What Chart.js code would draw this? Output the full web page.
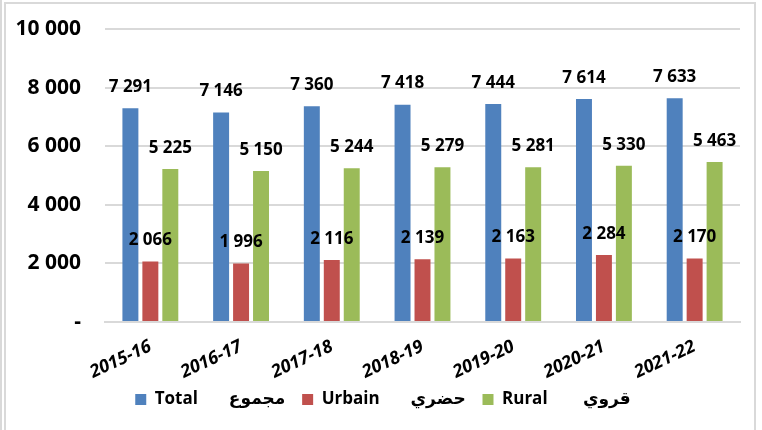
<!DOCTYPE html>
<html>
<head>
<meta charset="utf-8">
<script src="https://cdn.jsdelivr.net/npm/chart.js@4.4.1/dist/chart.umd.min.js"></script>
<style>
  html, body { margin: 0; padding: 0; background: #fff; }
  #wrap { position: relative; width: 762px; height: 430px; overflow: hidden; }
  #edge { position: absolute; left: 0; top: 0; width: 2px; height: 430px; background: #d9d9d9; }
  #frame { position: absolute; left: 4px; top: 2px; width: 748px; height: 440px;
           border: 2px solid #d9d9d9; border-bottom: none; }
  #chart { position: absolute; left: 0; top: 0; }
</style>
</head>
<body>
<div id="wrap">
  <div id="edge"></div>
  <div id="frame"></div>
  <canvas id="chart" width="762" height="430"></canvas>
</div>
<script>
// years and values
const years = ['2015-16', '2016-17', '2017-18', '2018-19', '2019-20', '2020-21', '2021-22'];
const totalValues = [7291, 7146, 7360, 7418, 7444, 7614, 7633];
const urbainValues = [2066, 1996, 2116, 2139, 2163, 2284, 2170];
const ruralValues = [5225, 5150, 5244, 5279, 5281, 5330, 5463];
const yTicks = [0, 2000, 4000, 6000, 8000, 10000];

const fontFamily = "'Open Sans', 'DejaVu Sans', sans-serif";
const gridColor = '#d9d9d9';

function fmt(v) {
    return v.toString().replace(/\B(?=(\d{3})+(?!\d))/g, ' ');
}

// value labels above each bar
const barLabels = {
    id: 'barLabels',
    afterDatasetsDraw(chart) {
        const ctx = chart.ctx;
        ctx.save();
        ctx.font = 'bold 17px ' + fontFamily;
        ctx.fillStyle = '#000';
        ctx.textAlign = 'center';
        ctx.textBaseline = 'middle';
        chart.data.datasets.forEach(function (ds, i) {
            chart.getDatasetMeta(i).data.forEach(function (bar, j) {
                ctx.fillText(fmt(ds.data[j]), bar.x, bar.y - 21);
            });
        });
        ctx.restore();
    }
};

// make sure the top gridline shows (it sits on the chart area edge)
const topGrid = {
    id: 'topGrid',
    beforeDatasetsDraw(chart) {
        const y = chart.scales.y;
        const area = chart.chartArea;
        const py = Math.round(y.getPixelForValue(yTicks[yTicks.length - 1]));
        const ctx = chart.ctx;
        ctx.save();
        ctx.strokeStyle = gridColor;
        ctx.lineWidth = 2;
        ctx.beginPath();
        ctx.moveTo(area.left, py);
        ctx.lineTo(area.right, py);
        ctx.stroke();
        ctx.restore();
    }
};

// nudge the legend a bit right so it sits under the plot like the original
const legendShift = {
    id: 'legendShift',
    afterLayout(chart) {
        chart.legend.left += 8;
        chart.legend.right += 8;
    }
};

const ctx = document.getElementById('chart').getContext('2d');
new Chart(ctx, {
    type: 'bar',
    data: {
        labels: years,
        datasets: [{
            label: 'Total       مجموع  ',
            data: totalValues,
            backgroundColor: '#4F81BD'
        }, {
            label: 'Urbain       حضري  ',
            data: urbainValues,
            backgroundColor: '#C0504D'
        }, {
            label: 'Rural        قروي',
            data: ruralValues,
            backgroundColor: '#9BBB59'
        }]
    },
    options: {
        responsive: false,
        animation: false,
        categoryPercentage: 0.66,
        barPercentage: 0.8,
        layout: {
            padding: { left: 10, right: 22, top: 29, bottom: 12 }
        },
        plugins: {
            legend: {
                position: 'bottom',
                labels: {
                    boxWidth: 11,
                    boxHeight: 11,
                    padding: 8,
                    color: '#000',
                    font: { family: fontFamily, size: 17, weight: 'bold' }
                }
            },
            tooltip: { enabled: false }
        },
        scales: {
            x: {
                grid: { display: false, drawTicks: false },
                border: { color: gridColor, width: 2 },
                ticks: {
                    minRotation: 25,
                    maxRotation: 25,
                    padding: 14,
                    color: '#000',
                    font: { family: fontFamily, size: 18, weight: 'bold', style: 'italic' }
                },
                afterFit(axis) {
                    axis.height = 61;
                    axis.paddingLeft = 0;
                    axis.paddingRight = 0;
                }
            },
            y: {
                min: 0,
                max: 10000,
                afterBuildTicks(axis) {
                    axis.ticks = yTicks.map(function (v) { return { value: v }; });
                },
                grid: { color: gridColor, lineWidth: 2, drawTicks: false },
                border: { display: false },
                ticks: {
                    padding: 24,
                    color: '#000',
                    font: { family: fontFamily, size: 21, weight: 'bold' },
                    callback: function (v) { return v === 0 ? '-' : fmt(v); }
                },
                afterFit(axis) {
                    axis.width = 95;
                    axis.paddingTop = 0;
                    axis.paddingBottom = 0;
                }
            }
        }
    },
    plugins: [topGrid, barLabels, legendShift]
});
</script>
</body>
</html>
